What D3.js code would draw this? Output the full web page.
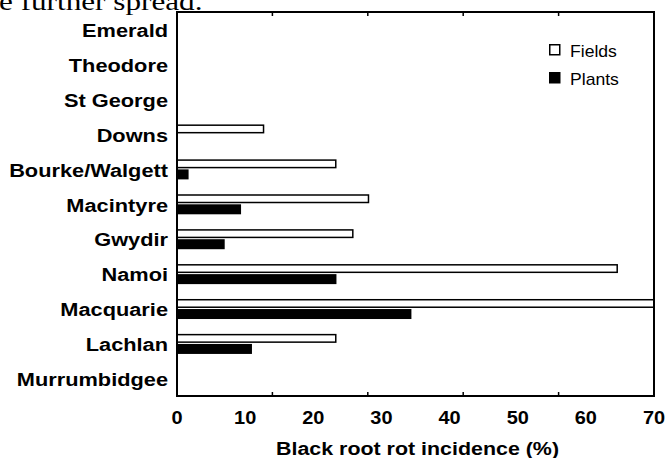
<!DOCTYPE html>
<html>
<head>
<meta charset="utf-8">
<script src="https://cdn.jsdelivr.net/npm/d3@7"></script>
<style>
  body { margin: 0; background: #fff; }
  svg { display: block; }
</style>
</head>
<body>
<div id="chart"></div>
<script>
// data
const categories = ["Emerald", "Theodore", "St George", "Downs", "Bourke/Walgett", "Macintyre",
                    "Gwydir", "Namoi", "Macquarie", "Lachlan", "Murrumbidgee"];
const fields = [0, 0, 0, 12.7, 23.3, 28.1, 25.8, 64.6, 70, 23.3, 0];
const plants = [0, 0, 0, 0, 1.7, 9.4, 7.0, 23.4, 34.4, 11.0, 0];
const xTickLabels = [0, 10, 20, 30, 40, 50, 60, 70];
const xTickMarks = [14, 28, 42, 56];   // the original has its tick marks off the labels
const legendItems = ["Fields", "Plants"];

const W = 667, H = 458;
const plotL = 177, plotR = 654, plotT = 12, plotB = 396;

const svg = d3.select("#chart").append("svg")
    .attr("width", W).attr("height", H);

// cut-off line of body text above the figure
svg.append("text")
    .attr("transform", "translate(-1,9.5) scale(1.2,1)")
    .style("font-family", "'Liberation Serif', 'Times New Roman', serif")
    .style("font-size", "26px")
    .text("e further spread.");

let x = d3.scaleLinear().domain([0, 70]).range([plotL, plotR]);
let y = d3.scaleBand().domain(categories).range([plotT, plotB]).padding(0);
let c = d => y(d) + y.bandwidth() / 2;

let rows = categories.map((d, i) => ({cat: d, fields: fields[i], plants: plants[i]}));

// fields bars (open)
svg.append("g").selectAll("rect")
    .data(rows.filter(d => d.fields > 0))
    .enter().append("rect")
        .attr("x", x(0))
        .attr("y", d => c(d.cat) - 9)
        .attr("width", d => x(d.fields) - x(0))
        .attr("height", 7.5)
        .attr("fill", "#fff")
        .attr("stroke", "#000")
        .attr("stroke-width", 1.5);

// plants bars (solid)
svg.append("g").selectAll("rect")
    .data(rows.filter(d => d.plants > 0))
    .enter().append("rect")
        .attr("x", x(0))
        .attr("y", d => c(d.cat) + 0.3)
        .attr("width", d => x(d.plants) - x(0))
        .attr("height", 10)
        .attr("fill", "#000");

// frame
svg.append("rect")
    .attr("x", plotL).attr("y", plotT)
    .attr("width", plotR - plotL).attr("height", plotB - plotT)
    .attr("fill", "none").attr("stroke", "#000").attr("stroke-width", 2);

// tick marks top and bottom, pointing in
let ticks = svg.append("g").attr("stroke", "#000").attr("stroke-width", 1.5);
ticks.selectAll(".tb").data(xTickMarks).enter().append("line")
    .attr("x1", d => x(d)).attr("x2", d => x(d))
    .attr("y1", plotB).attr("y2", plotB - 4);
ticks.selectAll(".tt").data(xTickMarks).enter().append("line")
    .attr("x1", d => x(d)).attr("x2", d => x(d))
    .attr("y1", plotT).attr("y2", plotT + 4);

// tick labels
svg.append("g").selectAll("text")
    .data(xTickLabels)
    .enter().append("text")
        .attr("transform", d => "translate(" + x(d) + ",424) scale(1.05,1)")
        .attr("text-anchor", "middle")
        .style("font-family", "'Liberation Sans', Arial, sans-serif")
        .style("font-weight", "bold")
        .style("font-size", "19px")
        .text(d => d);

// category labels
svg.append("g").selectAll("text")
    .data(categories)
    .enter().append("text")
        .attr("transform", d => "translate(168," + (c(d) + 7.5) + ") scale(1.21,1)")
        .attr("text-anchor", "end")
        .style("font-family", "'Liberation Sans', Arial, sans-serif")
        .style("font-weight", "bold")
        .style("font-size", "18px")
        .text(d => d);

// x axis title
svg.append("text")
    .attr("transform", "translate(" + ((plotL + plotR) / 2 + 2) + ",455) scale(1.17,1)")
    .attr("text-anchor", "middle")
    .style("font-family", "'Liberation Sans', Arial, sans-serif")
    .style("font-weight", "bold")
    .style("font-size", "18.3px")
    .text("Black root rot incidence (%)");

// legend
let legend = svg.append("g").selectAll("g")
    .data(legendItems)
    .enter().append("g")
        .attr("transform", (d, i) => "translate(549," + (44 + i * 28) + ")");
legend.append("rect")
    .attr("x", 0.75).attr("y", 0.75)
    .attr("width", 10).attr("height", 10)
    .attr("fill", (d, i) => i == 0 ? "#fff" : "#000")
    .attr("stroke", "#000").attr("stroke-width", 1.5);
legend.append("text")
    .attr("transform", "translate(21,12.5) scale(1.1,1)")
    .style("font-family", "'Liberation Sans', Arial, sans-serif")
    .style("font-size", "16px")
    .text(d => d);
</script>
</body>
</html>
